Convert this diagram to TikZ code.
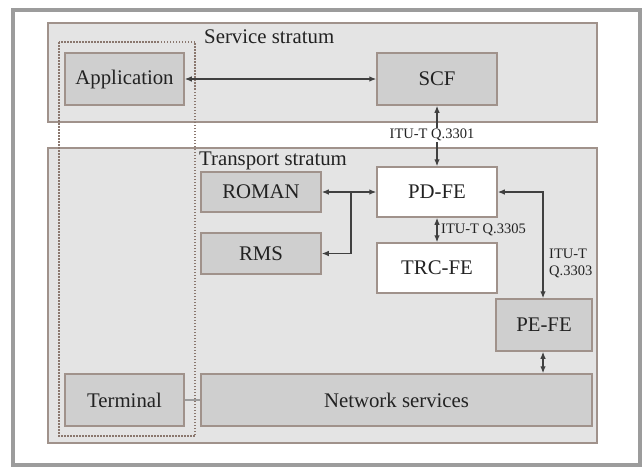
\documentclass[tikz,border=0pt]{standalone}
\usepackage{fontspec}
\setmainfont{Liberation Serif}
\usetikzlibrary{arrows.meta}
\definecolor{stratfill}{HTML}{E4E4E4}
\definecolor{boxfill}{HTML}{CFCFCF}
\definecolor{edgec}{HTML}{A0928B}
\definecolor{dotc}{HTML}{8A776E}
\definecolor{framec}{HTML}{9C9C9C}
\definecolor{linec}{HTML}{404040}
\definecolor{txtc}{HTML}{222222}
\tikzset{
  stratum/.style={draw=edgec, fill=stratfill, line width=1.5pt},
  fbox/.style={draw=edgec, fill=boxfill, line width=1.5pt, font=\fontsize{20.8}{24}\selectfont, text=txtc, inner sep=0pt},
  wbox/.style={fbox, fill=white},
  conn/.style={draw=linec, line width=1.2pt, {Latex[length=7pt,width=5.5pt]}-{Latex[length=7pt,width=5.5pt]}},
  onearrow/.style={draw=linec, line width=1.2pt, -{Latex[length=7pt,width=5.5pt]}},
  lbl/.style={font=\fontsize{14.5}{17}\selectfont, text=txtc, inner sep=1pt},
  title/.style={font=\fontsize{20.8}{24}\selectfont, text=txtc, inner sep=0pt, anchor=west}
}
\begin{document}
\begin{tikzpicture}[x=1pt,y=-1pt]
\useasboundingbox (0,0) rectangle (644,466);
\fill[white] (0,0) rectangle (644,466);
\draw[framec, line width=4pt] (13,9.5) rectangle (639.5,464.5);
% strata
\draw[stratum] (48,23) rectangle (597,122);
\draw[stratum] (48,148) rectangle (597,443);
\node[title] (svc) at (204,37) {Service stratum};
\node[title] (trn) at (199,161) {Transport stratum};
% dotted terminal column
\draw[dotc, line width=1.3pt, dash pattern=on 1.5pt off 1.5pt] (59,42) rectangle (195,436);
% boxes
\node[fbox, minimum width=119pt, minimum height=52pt] (app) at (124.5,79) {Application};
\node[fbox, minimum width=119pt, minimum height=52pt] (term) at (124.5,400) {Terminal};
\node[fbox, minimum width=391pt, minimum height=52pt] (net) at (396.5,400) {Network services};
\node[fbox, minimum width=120pt, minimum height=40pt] (roman) at (261,192) {ROMAN};
\node[fbox, minimum width=120pt, minimum height=41pt] (rms) at (261,253.5) {RMS};
\node[fbox, minimum width=120pt, minimum height=52pt] (scf) at (437,79) {SCF};
\node[wbox, minimum width=120pt, minimum height=50pt] (pd) at (437,192) {PD-FE};
\node[wbox, minimum width=120pt, minimum height=50pt] (trc) at (437,268) {TRC-FE};
\node[fbox, minimum width=96pt, minimum height=52pt] (pe) at (544,325) {PE-FE};
% connectors
\draw[conn] (app.east) -- (scf.west);
\draw[conn] (scf.south) -- (pd.north);
\node[lbl, fill=white] (q3301) at (432,135) {ITU-T Q.3301};
\draw[conn] (roman.east) -- (pd.west);
\coordinate (br) at (351,192);
\draw[onearrow] (br) |- (rms.east);
\draw[conn] (pd.south) -- (trc.north);
\node[lbl, anchor=west] (q3305) at (440,230) {ITU-T Q.3305};
\coordinate (pdr) at (543,192);
\draw[conn] (pd.east) -- (pdr) -- (pe.north -| pdr);
\node[lbl, anchor=west, align=left] (q3303) at (548,263.5) {ITU-T\\Q.3303};
\draw[conn] (pe.south -| pdr) -- (net.north -| pdr);
\draw[framec, line width=1.2pt] (term.east) -- (net.west);
\end{tikzpicture}
\end{document}
